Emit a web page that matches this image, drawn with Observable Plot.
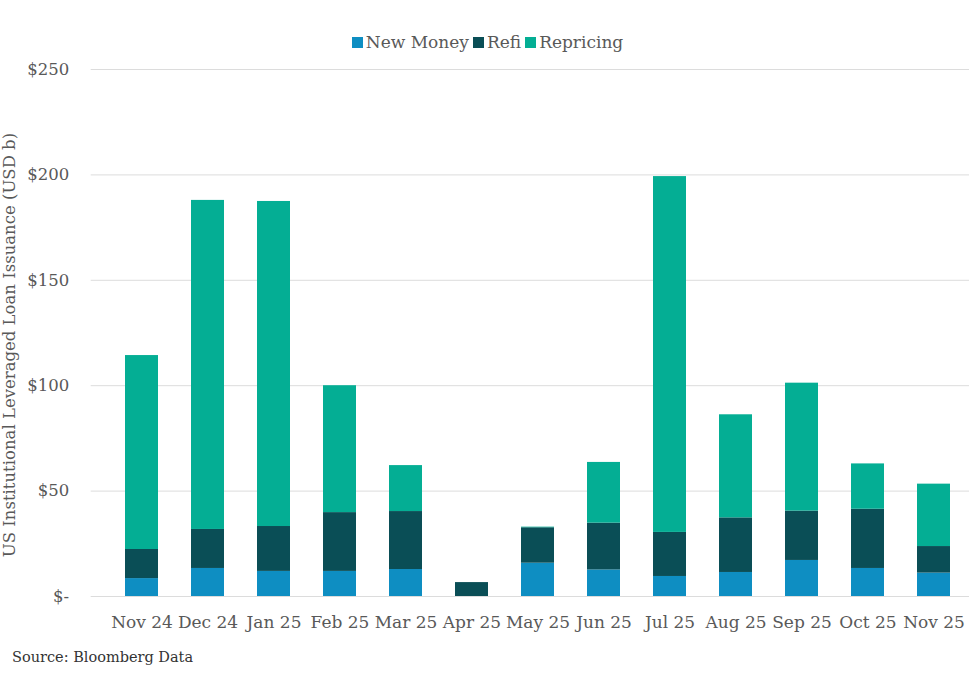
<!DOCTYPE html>
<html>
<head>
<meta charset="utf-8">
<script src="https://cdn.jsdelivr.net/npm/d3@7"></script>
<script src="https://cdn.jsdelivr.net/npm/@observablehq/plot@0.6"></script>
<style>
  html, body { margin: 0; padding: 0; background: #fff; overflow: hidden; width: 969px; height: 678px; }
  #wrap { position: relative; width: 969px; height: 678px; overflow: hidden; font-family: "DejaVu Serif", serif; color: #595959; }
  #legend { position: absolute; top: 32px; left: 0; width: 975px; text-align: center; font-size: 17px; white-space: nowrap; }
  #legend span.item { margin: 0 2px; }
  #legend span.sw { display: inline-block; width: 11px; height: 11px; margin-right: 3px; vertical-align: 0px; }
  #chart { position: absolute; top: 0; left: 0; width: 990px; }
  #chart svg { max-width: none !important; }
  #source { position: absolute; left: 12px; top: 649px; font-size: 14.5px; color: #333; }
</style>
</head>
<body>
<div id="wrap">
  <div id="chart"></div>
  <div id="legend"></div>
  <div id="source">Source: Bloomberg Data</div>
</div>
<script>
const months = ["Nov 24","Dec 24","Jan 25","Feb 25","Mar 25","Apr 25","May 25","Jun 25","Jul 25","Aug 25","Sep 25","Oct 25","Nov 25"];
const newMoney  = [8.5, 13.3, 11.9, 11.9, 12.8, 0.0, 15.8, 12.6, 9.5, 11.4, 17.1, 13.3, 11.1];
const refi      = [13.8, 18.5, 21.3, 27.9, 27.5, 6.6, 16.8, 22.2, 20.9, 25.9, 23.4, 28.1, 12.6];
const repricing = [92.0, 156.1, 154.2, 60.2, 21.8, 0.0, 0.3, 28.8, 168.8, 48.9, 60.7, 21.5, 29.6];
const seriesNames = ["New Money", "Refi", "Repricing"];
const seriesColors = ["#0E8EC2", "#0A4E56", "#04AE94"];
const yTicks = [0, 50, 100, 150, 200, 250];
const yLabel = "US Institutional Leveraged Loan Issuance (USD b)";

const seriesValues = [newMoney, refi, repricing];
const rows = [];
seriesNames.forEach((s, si) => {
  months.forEach((m, i) => rows.push({month: m, series: s, value: seriesValues[si][i]}));
});

const W = 990, H = 640;
const fmt = d => d === 0 ? "$-" : "$" + d;
const plot = Plot.plot({
  width: W,
  height: H,
  marginTop: 69,
  marginBottom: 44,
  marginLeft: 90.7,
  marginRight: 6.6,
  style: {fontFamily: "DejaVu Serif, serif", fontSize: "16.5px", color: "#595959", background: "transparent", maxWidth: "none"},
  x: {domain: months, padding: 0.505, label: null},
  y: {domain: [0, 250], label: null},
  color: {domain: seriesNames, range: seriesColors},
  marks: [
    Plot.gridY(yTicks, {stroke: "#dcdcdc", strokeOpacity: 1, strokeWidth: 1}),
    Plot.barY(rows, {x: "month", y: "value", fill: "series", order: seriesNames}),
    Plot.axisX({tickSize: 0, tickPadding: 19, fontSize: 17, label: null}),
    Plot.axisY(yTicks, {tickSize: 0, tickPadding: 22, fontSize: 16.5, tickFormat: fmt, label: null})
  ]
});
document.getElementById("chart").appendChild(plot);

d3.select(plot).append("text")
  .attr("transform", "translate(10,345) rotate(-90)")
  .attr("text-anchor", "middle")
  .attr("dominant-baseline", "middle")
  .attr("fill", "#595959")
  .style("font-size", "16.5px")
  .text(yLabel);

const legend = d3.select("#legend");
seriesNames.forEach((s, i) => {
  const it = legend.append("span").attr("class", "item");
  it.append("span").attr("class", "sw").style("background", seriesColors[i]);
  it.append("span").text(s);
});
</script>
</body>
</html>
